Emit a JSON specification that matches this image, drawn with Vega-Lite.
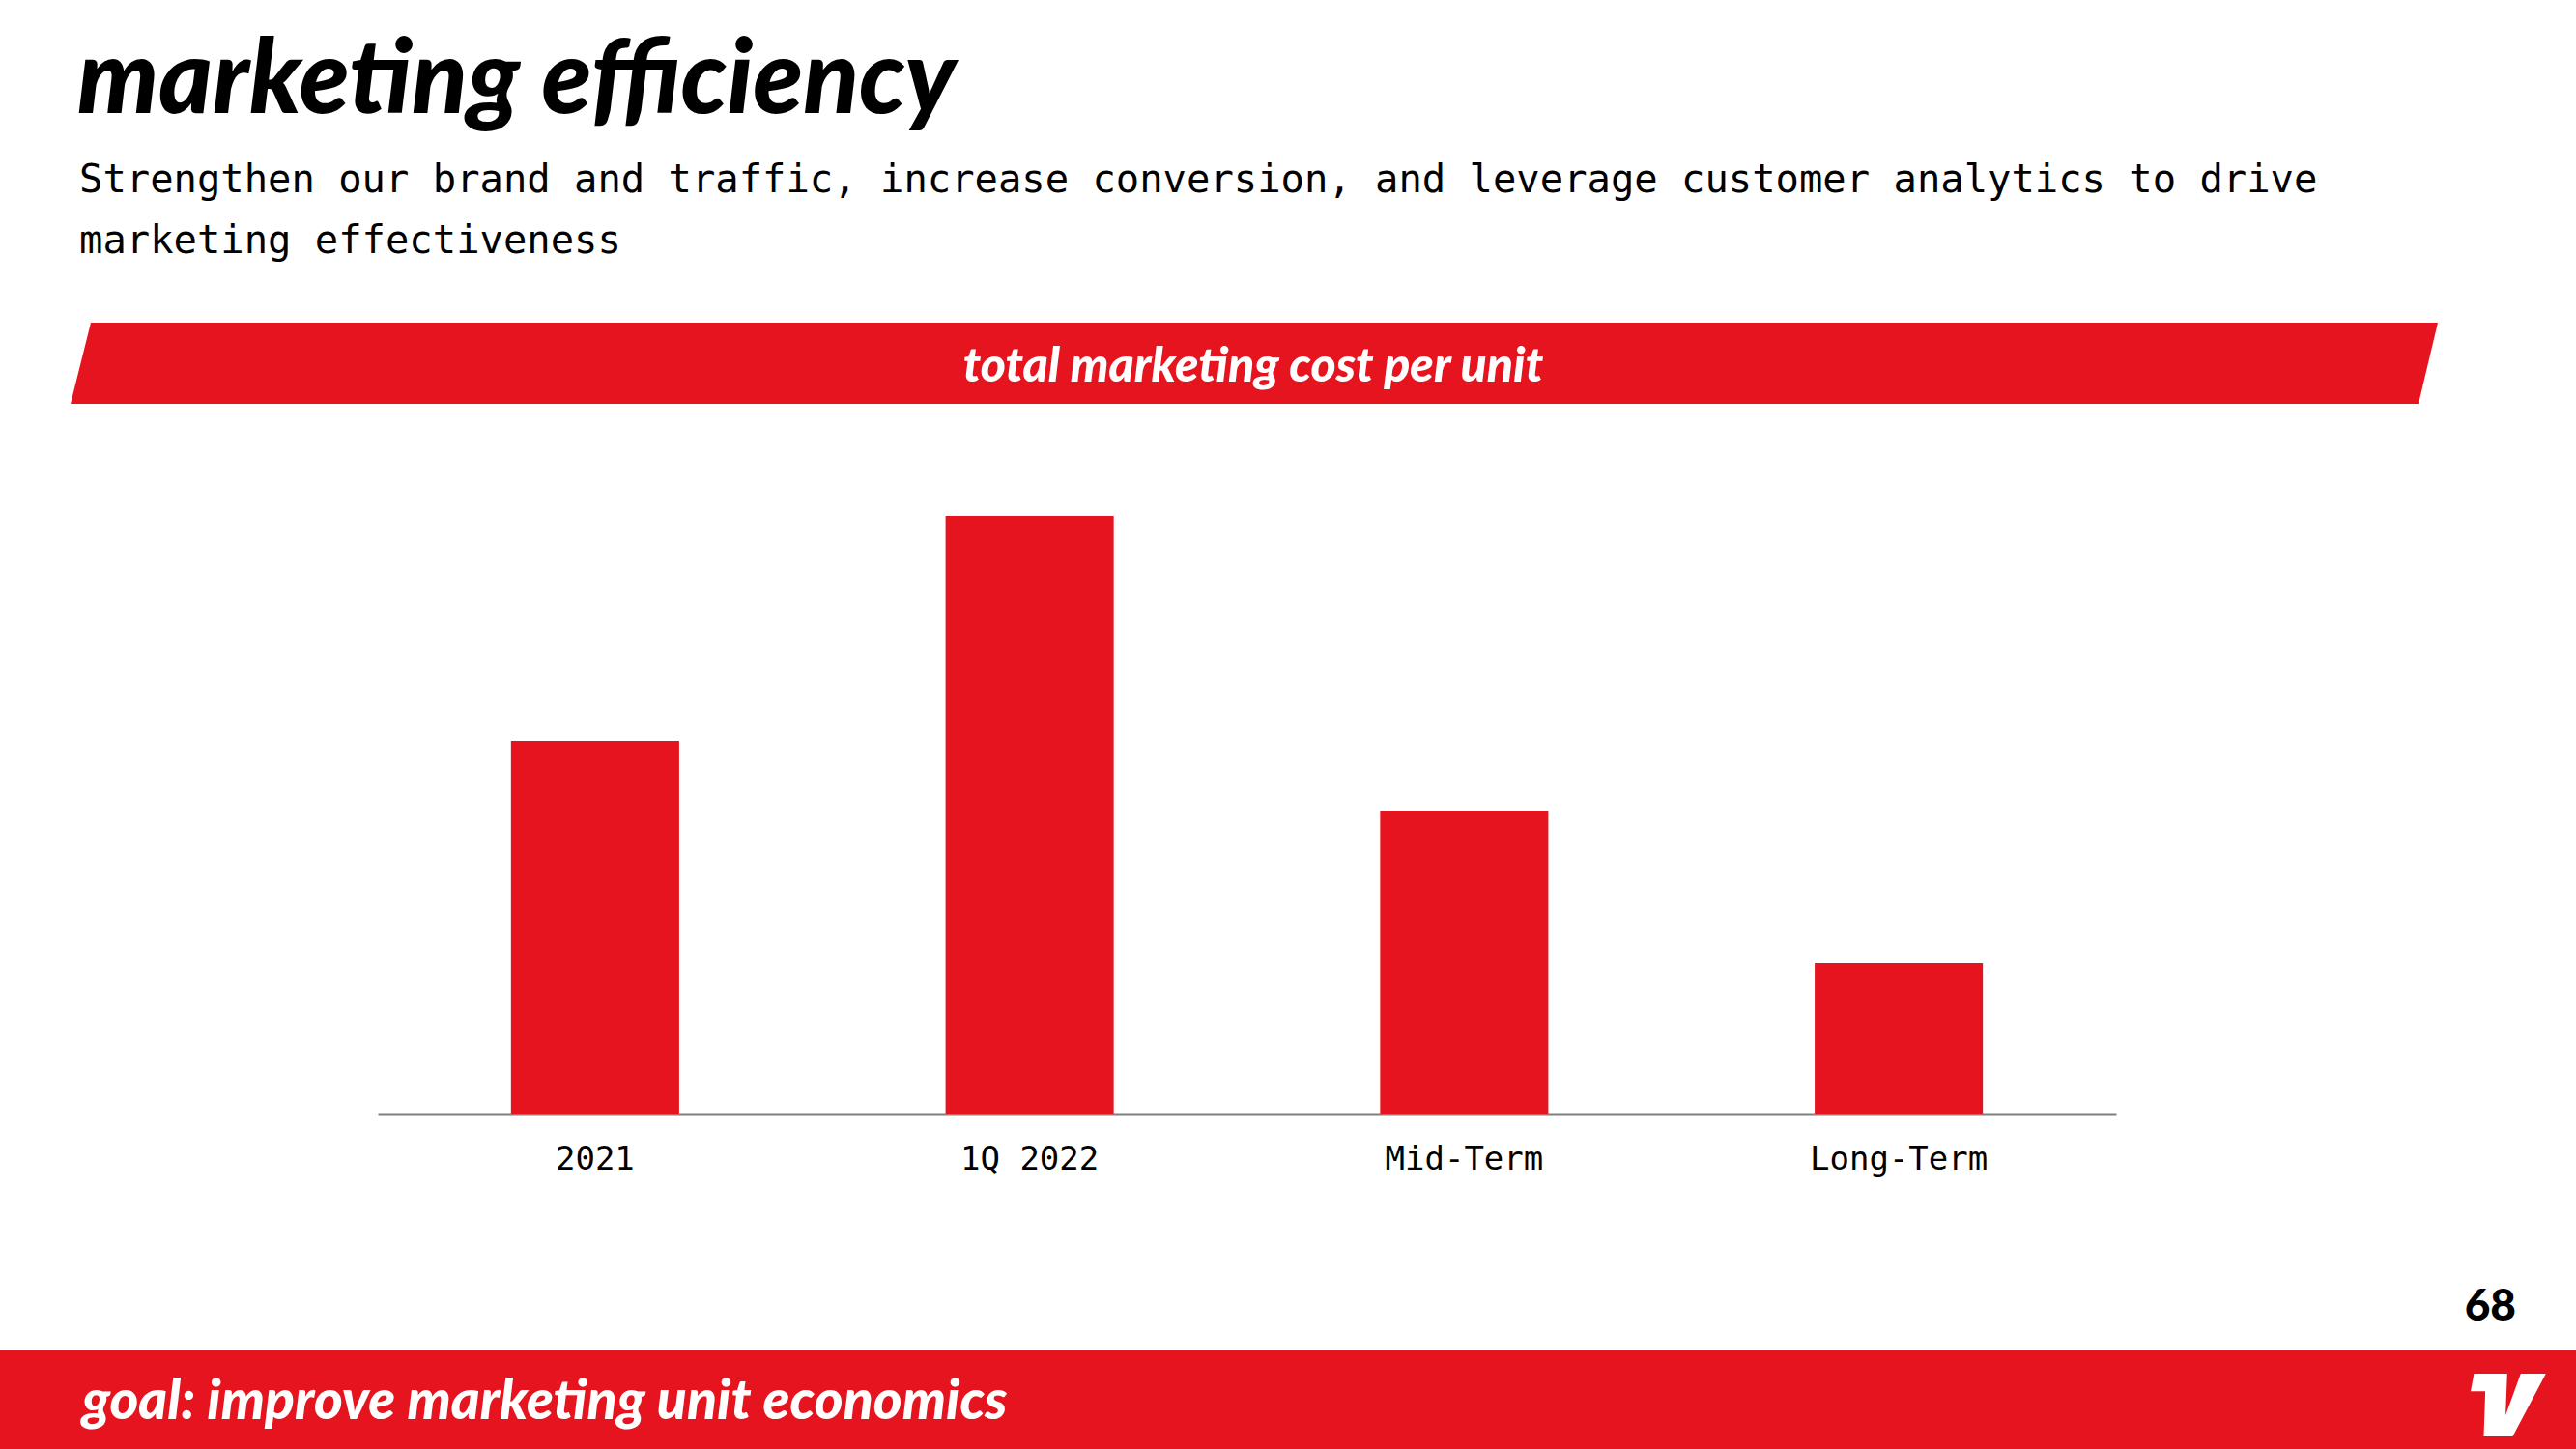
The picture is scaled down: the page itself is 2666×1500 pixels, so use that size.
{
  "$schema": "https://vega.github.io/schema/vega-lite/v6.json",
  "padding": 0,
  "spacing": 0,
  "background": "white",
  "config": {"view": {"stroke": null}, "concat": {"spacing": 0}},
  "vconcat": [
    {
      "width": 2666,
      "height": 333,
      "layer": [
        {
          "data": {"values": [{"t": "marketing efficiency"}]},
          "mark": {"type": "text", "x": 80, "y": 117, "align": "left", "baseline": "alphabetic", "font": "Lato", "fontWeight": 900, "fontStyle": "italic", "fontSize": 106, "color": "#000000"},
          "encoding": {"text": {"field": "t"}}
        },
        {
          "data": {"values": [{"t": "Strengthen our brand and traffic, increase conversion, and leverage customer analytics to drive\nmarketing effectiveness"}]},
          "mark": {"type": "text", "x": 82, "y": 199, "align": "left", "baseline": "alphabetic", "lineBreak": "\n", "lineHeight": 63, "font": "DejaVu Sans Mono", "fontSize": 40.5, "color": "#000000"},
          "encoding": {"text": {"field": "t"}}
        }
      ]
    },
    {
      "width": 2666,
      "height": 84,
      "layer": [
        {
          "data": {"values": [{"k": "banner"}]},
          "mark": {"type": "point", "shape": "M -1 0.03429 L -0.98286 -0.03429 L 1 -0.03429 L 0.98367 0.03429 Z", "filled": true, "color": "#e5141e", "opacity": 1, "strokeWidth": 0, "size": 6002500, "x": 1298, "y": 42},
          "encoding": {}
        },
        {
          "data": {"values": [{"t": "total marketing cost per unit"}]},
          "mark": {"type": "text", "x": 1297, "y": 61, "align": "center", "baseline": "alphabetic", "font": "Lato", "fontWeight": 900, "fontStyle": "italic", "fontSize": 50, "color": "#ffffff"},
          "encoding": {"text": {"field": "t"}}
        }
      ]
    },
    {
      "width": 2666,
      "height": 734,
      "data": {"values": [
        {"period": "2021", "cost": 100},
        {"period": "1Q 2022", "cost": 160.4},
        {"period": "Mid-Term", "cost": 81.1},
        {"period": "Long-Term", "cost": 40.4}
      ]},
      "mark": {"type": "bar", "color": "#e5141e"},
      "encoding": {
        "x": {
          "field": "period", "type": "nominal", "sort": null,
          "scale": {"range": [391, 2190], "paddingInner": 0.613, "paddingOuter": 0.3065},
          "axis": {"title": null, "labelAngle": 0, "domainColor": "#7f7f7f", "domainWidth": 2, "ticks": false, "tickSize": 0, "labelFont": "DejaVu Sans Mono", "labelFontSize": 34, "labelLimit": 0, "labelColor": "#000000", "labelPadding": 57, "labelBaseline": "alphabetic", "minExtent": 149, "maxExtent": 149}
        },
        "y": {"field": "cost", "type": "quantitative", "scale": {"domain": [0, 190.2]}, "axis": null}
      }
    },
    {
      "width": 2666,
      "height": 96,
      "data": {"values": [{"t": "68"}]},
      "mark": {"type": "text", "x": 2604, "y": 65, "align": "right", "baseline": "alphabetic", "font": "Lato", "fontWeight": 900, "fontSize": 46, "color": "#000000"},
      "encoding": {"text": {"field": "t"}}
    },
    {
      "width": 2666,
      "height": 104,
      "view": {"fill": "#e5141e", "stroke": null},
      "layer": [
        {
          "data": {"values": [{"t": "goal: improve marketing unit economics"}]},
          "mark": {"type": "text", "x": 85, "y": 71, "align": "left", "baseline": "alphabetic", "font": "Lato", "fontWeight": 900, "fontStyle": "italic", "fontSize": 57, "color": "#ffffff"},
          "encoding": {"text": {"field": "t"}}
        },
        {
          "data": {"values": [{"k": "logo"}]},
          "mark": {"type": "point", "shape": "M -0.913 -0.833 L -0.031 -0.833 L -0.074 0.278 L 0.328 -0.833 L 0.995 -0.833 L 0.115 0.833 L -0.654 0.833 L -0.612 -0.365 L -1 -0.365 Z", "filled": true, "color": "#ffffff", "opacity": 1, "strokeWidth": 0, "size": 6084, "x": 2596, "y": 56.5},
          "encoding": {}
        }
      ]
    }
  ]
}
